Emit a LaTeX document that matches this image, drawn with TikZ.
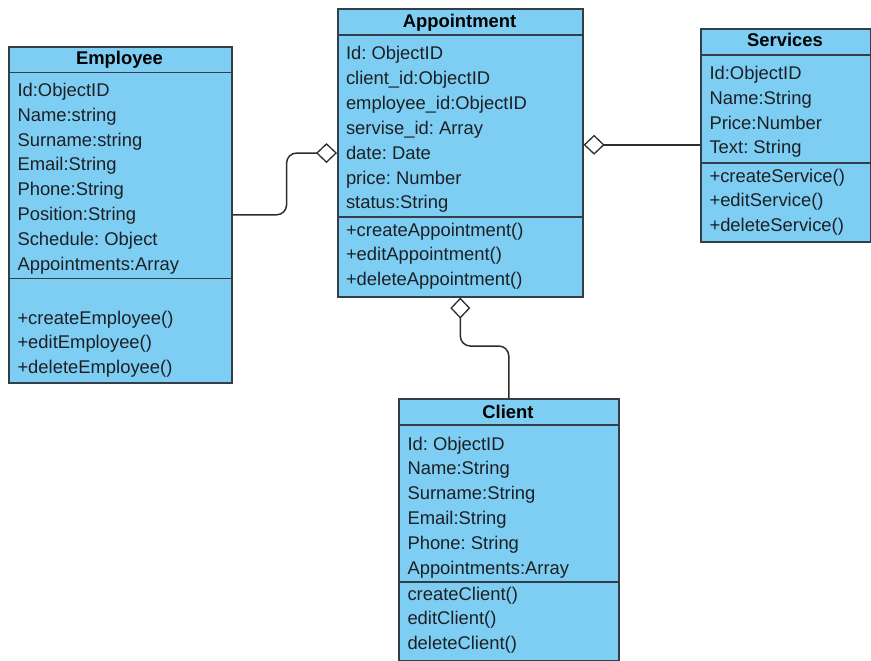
\documentclass[tikz,border=0pt]{standalone}
\usepackage{fontspec}
\setmainfont{Liberation Sans}
\usetikzlibrary{arrows.meta}
\definecolor{boxblue}{RGB}{126,206,244}
\definecolor{boxline}{RGB}{52,62,72}
\definecolor{textdark}{RGB}{28,32,36}
\definecolor{linkgray}{RGB}{45,45,45}
\frenchspacing

\begin{document}
\begin{tikzpicture}[x=1pt,y=-1pt,
        classbox/.style={draw=boxline,fill=boxblue,line width=1.6pt,anchor=north west,inner sep=0pt},
        sep/.style={boxline,line width=1.6pt},
        member/.style={anchor=base west,inner sep=0pt,text=textdark,font=\fontsize{18.4pt}{22pt}\selectfont},
        title/.style={anchor=base,inner sep=0pt,text=black,font=\fontsize{18.4pt}{22pt}\selectfont\bfseries},
        agg/.style={draw=linkgray,line width=1.5pt,rounded corners=10pt,-{Diamond[fill=white,length=21pt,width=20pt,line width=1.3pt]}}]
    \useasboundingbox (0,0) rectangle (871,661);

    % Employee
    \node[classbox,minimum width=223pt,minimum height=336pt] (employee) at (8,46) {};
    \draw[sep] (8,72.5) -- ++(223,0);
    \draw[sep] (8,278.5) -- ++(223,0);
    \node[title] (emp-t) at (119.5,65) {Employee};
    \foreach \m [count=\i] in {Id:ObjectID,Name:string,Surname:string,Email:String,Phone:String,Position:String,Schedule: Object,Appointments:Array}
        \node[member] (emp-a\i) at (17.3,71.7+24.8*\i) {\m};
    \foreach \m [count=\i] in {+createEmployee(),+editEmployee(),+deleteEmployee()}
        \node[member] (emp-m\i) at (17.3,299.2+24.8*\i) {\m};

    % Appointment
    \node[classbox,minimum width=245pt,minimum height=287.5pt] (appointment) at (337,8.5) {};
    \draw[sep] (337,35) -- ++(245,0);
    \draw[sep] (337,217) -- ++(245,0);
    \node[title] (app-t) at (459.5,27.5) {Appointment};
    \foreach \m [count=\i] in {Id: ObjectID,client\_id:ObjectID,employee\_id:ObjectID,servise\_id: Array,date: Date,price: Number,status:String}
        \node[member] (app-a\i) at (345.8,35.2+24.8*\i) {\m};
    \foreach \m [count=\i] in {+createAppointment(),+editAppointment(),+deleteAppointment()}
        \node[member] (app-m\i) at (345.8,211.2+24.8*\i) {\m};

    % Services
    \node[classbox,minimum width=170pt,minimum height=212.5pt] (services) at (700,28.5) {};
    \draw[sep] (700,55) -- ++(170,0);
    \draw[sep] (700,163) -- ++(170,0);
    \node[title] (srv-t) at (785,47) {Services};
    \foreach \m [count=\i] in {Id:ObjectID,Name:String,Price:Number,Text: String}
        \node[member] (srv-a\i) at (709.3,54.7+24.8*\i) {\m};
    \foreach \m [count=\i] in {+createService(),+editService(),+deleteService()}
        \node[member] (srv-m\i) at (709.3,157.2+24.8*\i) {\m};

    % Client
    \node[classbox,minimum width=220pt,minimum height=262pt] (client) at (398,398) {};
    \draw[sep] (398,425) -- ++(220,0);
    \draw[sep] (398,582) -- ++(220,0);
    \node[title] (cli-t) at (508,418) {Client};
    \foreach \m [count=\i] in {Id: ObjectID,Name:String,Surname:String,Email:String,Phone: String,Appointments:Array}
        \node[member] (cli-a\i) at (407.3,425.2+24.8*\i) {\m};
    \foreach \m [count=\i] in {createClient(),editClient(),deleteClient()}
        \node[member] (cli-m\i) at (407.3,575.2+24.8*\i) {\m};

    % aggregations
    \draw[agg] (employee.east) -- ++(54,0) |- (appointment.west);
    \draw[agg] ([yshift=-9.25pt]services.west) -- ([yshift=-9.25pt]services.west -| appointment.east);
    \draw[agg] (client.north) -- ++(0,-52) -| (appointment.south);
\end{tikzpicture}
\end{document}
